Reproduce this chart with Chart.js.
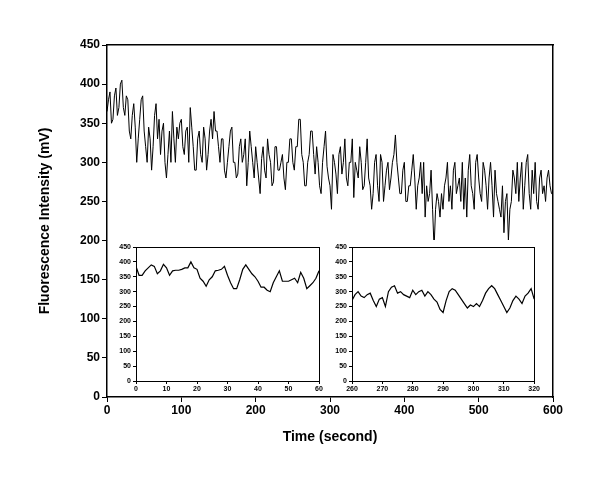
<!DOCTYPE html>
<html>
<head>
<meta charset="utf-8">
<script src="https://cdn.jsdelivr.net/npm/chart.js@4"></script>
<style>
  body { margin: 0; background: #fff; }
  #wrap { position: relative; width: 600px; height: 484px; }
  canvas { position: absolute; }
  #main { left: 0; top: 0; }
  #in1 { left: 110px; top: 240px; }
  #in2 { left: 326px; top: 240px; }
</style>
</head>
<body>
<div id="wrap">
  <canvas id="main" width="600" height="484"></canvas>
  <canvas id="in1" width="215" height="156"></canvas>
  <canvas id="in2" width="215" height="156"></canvas>
</div>
<script>
// main trace, one value every 2 s (0..600)
const mainStep = 2;
const mainValues = [
  365, 380, 390, 350, 355, 385, 395, 360, 370, 400, 405, 370, 360, 385, 380, 340, 330, 360, 375, 345,
  300, 330, 355, 380, 385, 340, 320, 300, 345, 330, 290, 320, 360, 375, 330, 355, 310, 340, 350, 300,
  280, 310, 340, 300, 365, 330, 300, 345, 330, 350, 355, 320, 310, 340, 345, 300, 370, 345, 320, 290,
  290, 330, 340, 310, 300, 345, 330, 290, 310, 340, 355, 330, 365, 340, 340, 320, 300, 330, 330, 290,
  280, 300, 320, 340, 345, 300, 300, 280, 285, 320, 330, 300, 310, 330, 270, 300, 340, 320, 300, 280,
  320, 300, 280, 260, 305, 320, 290, 280, 330, 310, 300, 270, 275, 320, 320, 290, 290, 300, 310, 280,
  265, 300, 300, 330, 330, 300, 290, 320, 320, 355, 355, 310, 300, 270, 270, 300, 310, 340, 340, 310,
  285, 320, 300, 270, 260, 300, 320, 340, 295, 280, 270, 240, 310, 300, 285, 260, 310, 320, 285, 300,
  330, 280, 270, 300, 300, 330, 255, 300, 290, 280, 320, 300, 265, 270, 300, 330, 280, 270, 240, 260,
  300, 310, 270, 250, 310, 300, 250, 270, 290, 300, 265, 280, 300, 310, 335, 300, 280, 260, 260, 290,
  300, 250, 250, 270, 270, 290, 310, 280, 240, 270, 280, 300, 260, 300, 230, 270, 250, 260, 290, 240,
  190, 240, 260, 250, 230, 260, 240, 270, 280, 300, 250, 270, 240, 290, 300, 260, 270, 280, 250, 300,
  240, 280, 230, 290, 310, 270, 260, 240, 300, 310, 280, 260, 250, 300, 290, 270, 240, 280, 300, 270,
  230, 290, 260, 250, 240, 230, 270, 210, 250, 260, 200, 240, 250, 290, 280, 260, 300, 250, 280, 300,
  240, 270, 300, 310, 260, 240, 290, 260, 300, 250, 240, 280, 290, 260, 270, 250, 280, 290, 270, 260,
  260
];
const mainLabels = mainValues.map((v, i) => i * mainStep);

// inset 1: 0..60 s, 1 s steps
const in1Values = [
  385, 355, 355, 370, 380, 390, 385, 360, 370, 392, 380, 355, 370, 372, 372, 375, 380, 380, 400, 380,
  375, 345, 335, 318, 340, 350, 370, 372, 375, 385, 355, 330, 310, 310, 340, 375, 390, 375, 360, 350,
  335, 315, 315, 305, 300, 330, 350, 370, 335, 335, 335, 340, 345, 330, 365, 345, 310, 320, 330, 345, 370
];
// inset 2: 260..320 s, 1 s steps
const in2Values = [
  270, 290, 300, 285, 280, 290, 295, 270, 250, 275, 280, 250, 300, 315, 320, 295, 300, 290, 285, 280,
  305, 290, 300, 305, 285, 300, 290, 275, 265, 240, 230, 270, 300, 310, 305, 290, 275, 260, 245, 255,
  250, 260, 250, 270, 295, 310, 320, 310, 290, 270, 250, 230, 245, 270, 285, 275, 260, 285, 295, 310, 275
];

const FONT = "'Liberation Sans', Arial, sans-serif";

function fixSize(prop, n) { return s => { s[prop] = n; }; }

// white box behind inset plot areas
const whiteArea = {
  id: 'whiteArea',
  beforeDraw(chart, args, o) {
    if (!o.on) return;
    const a = chart.chartArea, c = chart.ctx;
    c.save(); c.fillStyle = '#fff';
    c.fillRect(a.left - 26, a.top - 7, a.width + 29, a.height + 14);
    c.restore();
  }
};

function makeChart(id, xs, ys, opt) {
  const pts = xs.map((x, i) => ({ x: x, y: ys[i] }));
  const tickFont = { family: FONT, size: opt.fs, weight: 'bold' };
  const edge = { display: false, drawTicks: false };
  const titleFont = { family: FONT, size: 14, weight: 'bold' };
  new Chart(document.getElementById(id), {
    type: 'line',
    data: { datasets: [{ data: pts, borderColor: '#000', borderWidth: opt.lw, pointRadius: 0, tension: 0 }] },
    plugins: [whiteArea],
    options: {
      responsive: false, animation: false, events: [],
      plugins: { legend: { display: false }, tooltip: { enabled: false }, whiteArea: { on: opt.white } },
      layout: { padding: opt.pad },
      scales: {
        x: {
          type: 'linear', min: opt.xmin, max: opt.xmax, position: 'bottom',
          ticks: { stepSize: opt.xstep, color: '#000', font: tickFont, padding: 1, maxRotation: 0 },
          grid: { display: true, drawOnChartArea: false, tickLength: opt.tl, color: '#000' },
          border: { color: '#000', width: opt.bw },
          title: { display: !!opt.xt, text: opt.xt, color: '#000', font: titleFont, padding: 0 },
          afterFit: fixSize('height', opt.bottom)
        },
        x2: {
          type: 'linear', min: opt.xmin, max: opt.xmax, position: 'top',
          ticks: { display: false }, grid: edge, border: { color: '#000', width: opt.bw },
          afterFit: fixSize('height', opt.top)
        },
        y: {
          min: 0, max: 450, position: 'left',
          ticks: { stepSize: 50, color: '#000', font: tickFont, padding: 2 },
          grid: { display: true, drawOnChartArea: false, tickLength: opt.tl, color: '#000' },
          border: { color: '#000', width: opt.bw },
          title: { display: !!opt.yt, text: opt.yt, color: '#000', font: titleFont, padding: 0 },
          afterFit: fixSize('width', opt.left)
        },
        y2: {
          min: 0, max: 450, position: 'right',
          ticks: { display: false }, grid: edge, border: { color: '#000', width: opt.bw },
          afterFit: fixSize('width', opt.right)
        }
      }
    }
  });
}

makeChart('main', mainLabels, mainValues, {
  xmin: 0, xmax: 600, xstep: 100, fs: 12, lw: 1, bw: 1.5, tl: 5,
  xt: 'Time (second)', yt: 'Fluorescence Intensity (mV)',
  pad: { left: 37, bottom: 38, top: 0, right: 0 }, left: 70, right: 47, top: 45, bottom: 49
});
makeChart('in1', in1Values.map((v, i) => i), in1Values, {
  xmin: 0, xmax: 60, xstep: 10, fs: 7, lw: 1.2, bw: 1, tl: 3, white: true,
  pad: 0, left: 26, right: 6, top: 7, bottom: 15
});
makeChart('in2', in2Values.map((v, i) => 260 + i), in2Values, {
  xmin: 260, xmax: 320, xstep: 10, fs: 7, lw: 1.2, bw: 1, tl: 3, white: true,
  pad: 0, left: 26, right: 6, top: 7, bottom: 15
});
</script>
</body>
</html>
